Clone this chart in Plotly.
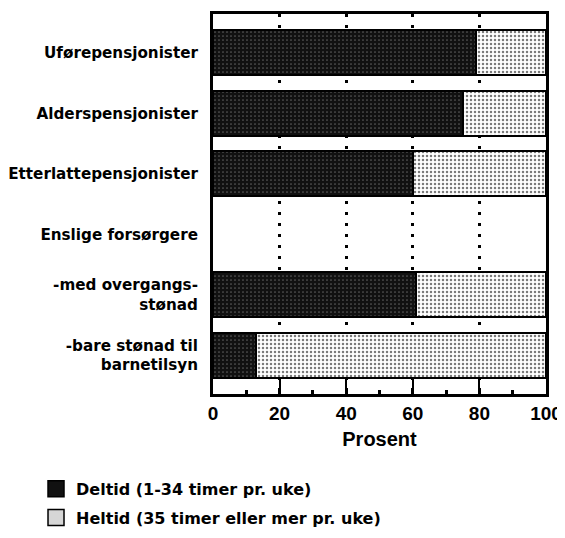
import plotly.graph_objects as go

categories = [
    "Uførepensjonister",
    "Alderspensjonister",
    "Etterlattepensjonister",
    "Enslige forsørgere",
    "-med overgangs-<br>stønad",
    "-bare stønad til<br>barnetilsyn",
]
deltid = [79, 75, 60, None, 61, 13]
heltid = [21, 25, 40, None, 39, 87]
x_ticks = [0, 20, 40, 60, 80, 100]
series_names = ["Deltid (1-34 timer pr. uke)", "Heltid (35 timer eller mer pr. uke)"]

LABEL_FONT = "DejaVu Sans, sans-serif"
NUM_FONT = "Liberation Sans, Arial, sans-serif"

DARK = "#111111"
LIGHT_BG = "white"

fig = go.Figure()
fig.add_trace(go.Bar(
    y=categories, x=deltid, orientation="h", name=series_names[0], showlegend=False,
    marker=dict(
        color=DARK,
        line=dict(color="black", width=2),
        pattern=dict(shape=".", fgcolor="#5a5a5a", bgcolor=DARK, size=4, solidity=0.15),
    ),
))
fig.add_trace(go.Bar(
    y=categories, x=heltid, orientation="h", name=series_names[1], showlegend=False,
    marker=dict(
        color=LIGHT_BG,
        line=dict(color="black", width=2),
        pattern=dict(shape=".", fgcolor="#7a7a7a", bgcolor=LIGHT_BG, size=4, solidity=0.3),
    ),
))
# legend entries (larger square swatches like the original)
fig.add_trace(go.Scatter(
    x=[None], y=[None], mode="markers", name=series_names[0], legendgroup="a",
    marker=dict(symbol="square", size=16, color=DARK, line=dict(color="black", width=1.5)),
))
fig.add_trace(go.Scatter(
    x=[None], y=[None], mode="markers", name=series_names[1], legendgroup="b",
    marker=dict(symbol="square", size=16, color="#d6d6d6", line=dict(color="black", width=1.5)),
))

fig.update_layout(
    template="none",
    width=565, height=545,
    barmode="stack", bargap=0.25,
    margin=dict(l=205, r=27, t=6, b=159),
    paper_bgcolor="white", plot_bgcolor="white",
    font=dict(family=LABEL_FONT, size=15.2, color="black", weight="bold"),
    showlegend=True,
    legend=dict(
        x=-0.5315, y=-0.205, xanchor="left", yanchor="top",
        orientation="v", font=dict(size=16, family=LABEL_FONT, weight="bold", color="black"),
        traceorder="grouped", tracegroupgap=5, itemwidth=30,
        bgcolor="rgba(0,0,0,0)",
    ),
    xaxis=dict(
        range=[0, 100], tickvals=x_ticks, ticktext=[str(v) for v in x_ticks],
        showline=True, linecolor="black", linewidth=3, mirror=True,
        showgrid=True, gridcolor="black", gridwidth=3, griddash="3px,8px",
        ticks="inside", ticklen=17, tickwidth=2, tickcolor="black",
        minor=dict(ticks="inside", ticklen=4, tickwidth=3, tickcolor="black", dtick=10, tick0=0, showgrid=False),
        tickfont=dict(size=19, family=NUM_FONT, weight="bold"),
        title=dict(text="Prosent", font=dict(size=20, family=NUM_FONT, weight="bold"), standoff=10),
        zeroline=False, fixedrange=True, automargin=False,
    ),
    yaxis=dict(
        type="category", categoryorder="array", categoryarray=categories,
        range=[5.64, -0.64],
        showline=True, linecolor="black", linewidth=3, mirror=True,
        showgrid=False, ticks="", ticklabelstandoff=9,
        tickfont=dict(size=15.2, family=LABEL_FONT, weight="bold"),
        zeroline=False, fixedrange=True, automargin=False,
    ),
)

fig.write_html("out.html")
